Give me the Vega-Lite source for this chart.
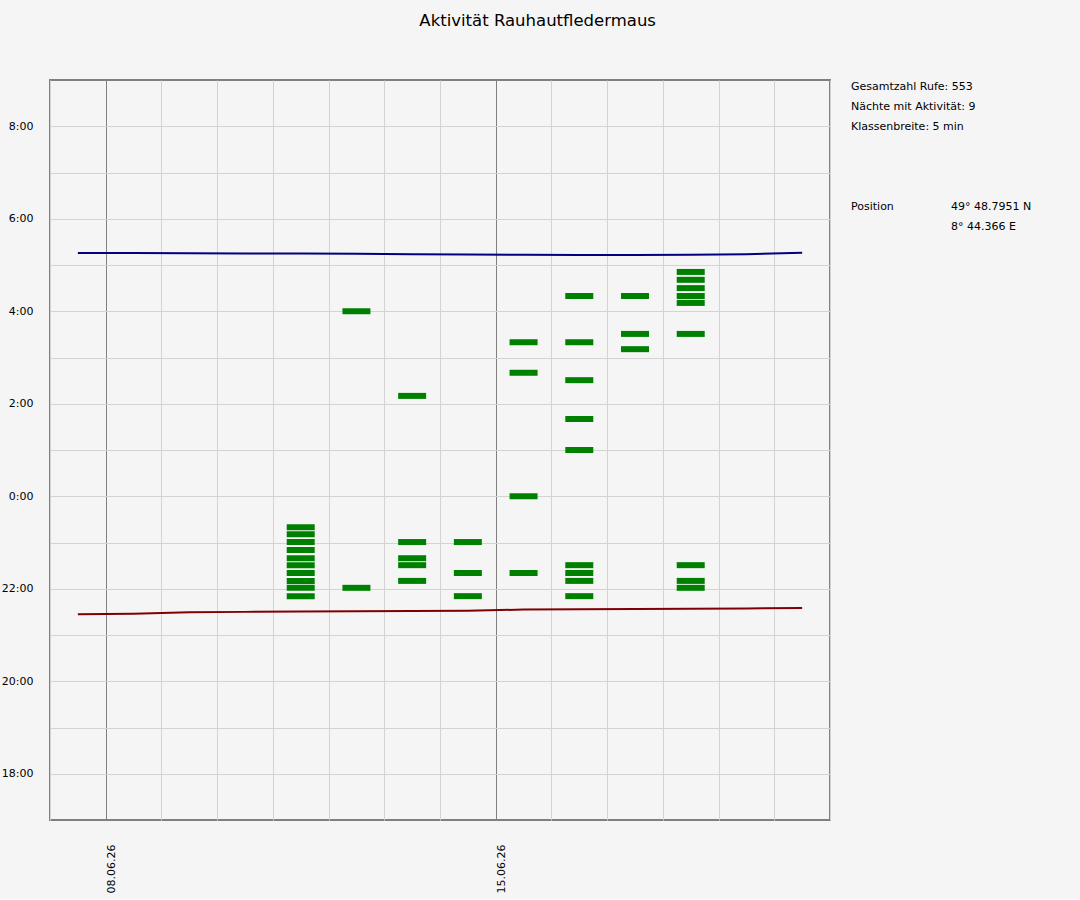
{
  "$schema": "https://vega.github.io/schema/vega-lite/v6.json",
  "background": "#f5f5f5",
  "padding": {"left": 0, "top": 12, "right": 29, "bottom": 5},
  "title": {
    "text": "Aktivität Rauhautfledermaus",
    "anchor": "middle",
    "fontSize": 16.5,
    "fontWeight": "normal",
    "color": "#000000",
    "offset": 50,
    "dx": 12
  },
  "datasets": {
    "rufe": [
      {"nacht": "11.06.2026", "stunde": 23.33},
      {"nacht": "11.06.2026", "stunde": 23.18},
      {"nacht": "11.06.2026", "stunde": 23.01},
      {"nacht": "11.06.2026", "stunde": 22.84},
      {"nacht": "11.06.2026", "stunde": 22.66},
      {"nacht": "11.06.2026", "stunde": 22.51},
      {"nacht": "11.06.2026", "stunde": 22.34},
      {"nacht": "11.06.2026", "stunde": 22.17},
      {"nacht": "11.06.2026", "stunde": 22.02},
      {"nacht": "11.06.2026", "stunde": 21.84},
      {"nacht": "12.06.2026", "stunde": 28.0},
      {"nacht": "12.06.2026", "stunde": 22.02},
      {"nacht": "13.06.2026", "stunde": 26.17},
      {"nacht": "13.06.2026", "stunde": 23.01},
      {"nacht": "13.06.2026", "stunde": 22.66},
      {"nacht": "13.06.2026", "stunde": 22.51},
      {"nacht": "13.06.2026", "stunde": 22.17},
      {"nacht": "14.06.2026", "stunde": 23.01},
      {"nacht": "14.06.2026", "stunde": 22.34},
      {"nacht": "14.06.2026", "stunde": 21.84},
      {"nacht": "15.06.2026", "stunde": 27.33},
      {"nacht": "15.06.2026", "stunde": 26.67},
      {"nacht": "15.06.2026", "stunde": 24.0},
      {"nacht": "15.06.2026", "stunde": 22.34},
      {"nacht": "16.06.2026", "stunde": 28.33},
      {"nacht": "16.06.2026", "stunde": 27.33},
      {"nacht": "16.06.2026", "stunde": 26.51},
      {"nacht": "16.06.2026", "stunde": 25.67},
      {"nacht": "16.06.2026", "stunde": 25.0},
      {"nacht": "16.06.2026", "stunde": 22.51},
      {"nacht": "16.06.2026", "stunde": 22.34},
      {"nacht": "16.06.2026", "stunde": 22.17},
      {"nacht": "16.06.2026", "stunde": 21.84},
      {"nacht": "17.06.2026", "stunde": 28.33},
      {"nacht": "17.06.2026", "stunde": 27.51},
      {"nacht": "17.06.2026", "stunde": 27.18},
      {"nacht": "18.06.2026", "stunde": 28.85},
      {"nacht": "18.06.2026", "stunde": 28.68},
      {"nacht": "18.06.2026", "stunde": 28.5},
      {"nacht": "18.06.2026", "stunde": 28.33},
      {"nacht": "18.06.2026", "stunde": 28.18},
      {"nacht": "18.06.2026", "stunde": 27.51},
      {"nacht": "18.06.2026", "stunde": 22.51},
      {"nacht": "18.06.2026", "stunde": 22.17},
      {"nacht": "18.06.2026", "stunde": 22.02}
    ],
    "sonne": [
      {"nacht": "07.06.2026", "ereignis": "Sonnenaufgang", "stunde": 29.26},
      {"nacht": "08.06.2026", "ereignis": "Sonnenaufgang", "stunde": 29.26},
      {"nacht": "09.06.2026", "ereignis": "Sonnenaufgang", "stunde": 29.255},
      {"nacht": "10.06.2026", "ereignis": "Sonnenaufgang", "stunde": 29.25},
      {"nacht": "11.06.2026", "ereignis": "Sonnenaufgang", "stunde": 29.25},
      {"nacht": "12.06.2026", "ereignis": "Sonnenaufgang", "stunde": 29.245},
      {"nacht": "13.06.2026", "ereignis": "Sonnenaufgang", "stunde": 29.235},
      {"nacht": "14.06.2026", "ereignis": "Sonnenaufgang", "stunde": 29.225},
      {"nacht": "15.06.2026", "ereignis": "Sonnenaufgang", "stunde": 29.22},
      {"nacht": "16.06.2026", "ereignis": "Sonnenaufgang", "stunde": 29.215},
      {"nacht": "17.06.2026", "ereignis": "Sonnenaufgang", "stunde": 29.215},
      {"nacht": "18.06.2026", "ereignis": "Sonnenaufgang", "stunde": 29.22},
      {"nacht": "19.06.2026", "ereignis": "Sonnenaufgang", "stunde": 29.235},
      {"nacht": "20.06.2026", "ereignis": "Sonnenaufgang", "stunde": 29.265},
      {"nacht": "07.06.2026", "ereignis": "Sonnenuntergang", "stunde": 21.45},
      {"nacht": "08.06.2026", "ereignis": "Sonnenuntergang", "stunde": 21.46},
      {"nacht": "09.06.2026", "ereignis": "Sonnenuntergang", "stunde": 21.49},
      {"nacht": "10.06.2026", "ereignis": "Sonnenuntergang", "stunde": 21.5},
      {"nacht": "11.06.2026", "ereignis": "Sonnenuntergang", "stunde": 21.51},
      {"nacht": "12.06.2026", "ereignis": "Sonnenuntergang", "stunde": 21.515},
      {"nacht": "13.06.2026", "ereignis": "Sonnenuntergang", "stunde": 21.52},
      {"nacht": "14.06.2026", "ereignis": "Sonnenuntergang", "stunde": 21.525},
      {"nacht": "15.06.2026", "ereignis": "Sonnenuntergang", "stunde": 21.55},
      {"nacht": "16.06.2026", "ereignis": "Sonnenuntergang", "stunde": 21.555},
      {"nacht": "17.06.2026", "ereignis": "Sonnenuntergang", "stunde": 21.56},
      {"nacht": "18.06.2026", "ereignis": "Sonnenuntergang", "stunde": 21.565},
      {"nacht": "19.06.2026", "ereignis": "Sonnenuntergang", "stunde": 21.575},
      {"nacht": "20.06.2026", "ereignis": "Sonnenuntergang", "stunde": 21.585}
    ],
    "info": [
      {"zeile": 0, "spalte": 0, "text": "Gesamtzahl Rufe: 553"},
      {"zeile": 1, "spalte": 0, "text": "Nächte mit Aktivität: 9"},
      {"zeile": 2, "spalte": 0, "text": "Klassenbreite: 5 min"},
      {"zeile": 6, "spalte": 0, "text": "Position"},
      {"zeile": 6, "spalte": 1, "text": "49° 48.7951 N"},
      {"zeile": 7, "spalte": 1, "text": "8° 44.366 E"}
    ]
  },
  "spacing": 9,
  "hconcat": [
    {
      "width": 780,
      "height": 740,
      "view": {"stroke": "#808080", "strokeWidth": 2},
      "encoding": {
        "x": {
          "field": "nacht",
          "timeUnit": "yearmonthdate",
          "type": "temporal",
          "bandPosition": 0.5,
          "scale": {
            "domain": [
              {"year": 2026, "month": 6, "date": 7},
              {"year": 2026, "month": 6, "date": 21}
            ],
            "nice": false
          },
          "axis": {
            "title": null,
            "tickCount": {"interval": "day", "step": 1},
            "labelExpr": "day(datum.value) == 1 ? timeFormat(datum.value, '%d.%m.%y') : ''",
            "labelAngle": -90,
            "labelAlign": "right",
            "labelBaseline": "top",
            "labelPadding": 24,
            "labelOverlap": false,
            "labelFlush": false,
            "labelBound": false,
            "ticks": false,
            "domain": false,
            "gridColor": {
              "condition": {"test": "day(datum.value) == 1", "value": "#808080"},
              "value": "#d3d3d3"
            },
            "gridOpacity": 1
          }
        },
        "y": {
          "field": "stunde",
          "type": "quantitative",
          "scale": {"domain": [17, 33], "nice": false, "zero": false},
          "axis": {
            "title": null,
            "values": [18, 19, 20, 21, 22, 23, 24, 25, 26, 27, 28, 29, 30, 31, 32],
            "labelExpr": "datum.value % 2 == 0 ? (datum.value % 24) + ':00' : ''",
            "labelPadding": 17,
            "ticks": false,
            "domain": false,
            "gridColor": "#d3d3d3",
            "gridOpacity": 1
          }
        }
      },
      "layer": [
        {
          "data": {"name": "sonne", "format": {"parse": {"nacht": "date:'%d.%m.%Y'"}}},
          "mark": {"type": "line", "strokeWidth": 2},
          "encoding": {
            "color": {
              "field": "ereignis",
              "type": "nominal",
              "scale": {
                "domain": ["Sonnenaufgang", "Sonnenuntergang"],
                "range": ["#000080", "#800000"]
              },
              "legend": null
            }
          }
        },
        {
          "data": {"name": "rufe", "format": {"parse": {"nacht": "date:'%d.%m.%Y'"}}},
          "mark": {
            "type": "tick",
            "orient": "horizontal",
            "size": 28,
            "thickness": 6,
            "color": "#008000",
            "opacity": 1
          }
        }
      ]
    },
    {
      "width": 200,
      "height": 740,
      "view": {"stroke": null},
      "data": {"name": "info"},
      "mark": {
        "type": "text",
        "align": "left",
        "baseline": "middle",
        "fontSize": 11,
        "yOffset": 7,
        "color": "#000000"
      },
      "encoding": {
        "x": {
          "field": "spalte",
          "type": "quantitative",
          "scale": {"domain": [0, 2], "nice": false},
          "axis": null
        },
        "y": {
          "field": "zeile",
          "type": "quantitative",
          "scale": {"domain": [0, 37], "reverse": true, "nice": false, "zero": false},
          "axis": null
        },
        "text": {"field": "text", "type": "nominal"}
      }
    }
  ],
  "config": {
    "font": "DejaVu Sans",
    "axis": {
      "labelFont": "DejaVu Sans",
      "labelFontSize": 11,
      "labelColor": "#000000"
    },
    "title": {"font": "DejaVu Sans"}
  }
}
